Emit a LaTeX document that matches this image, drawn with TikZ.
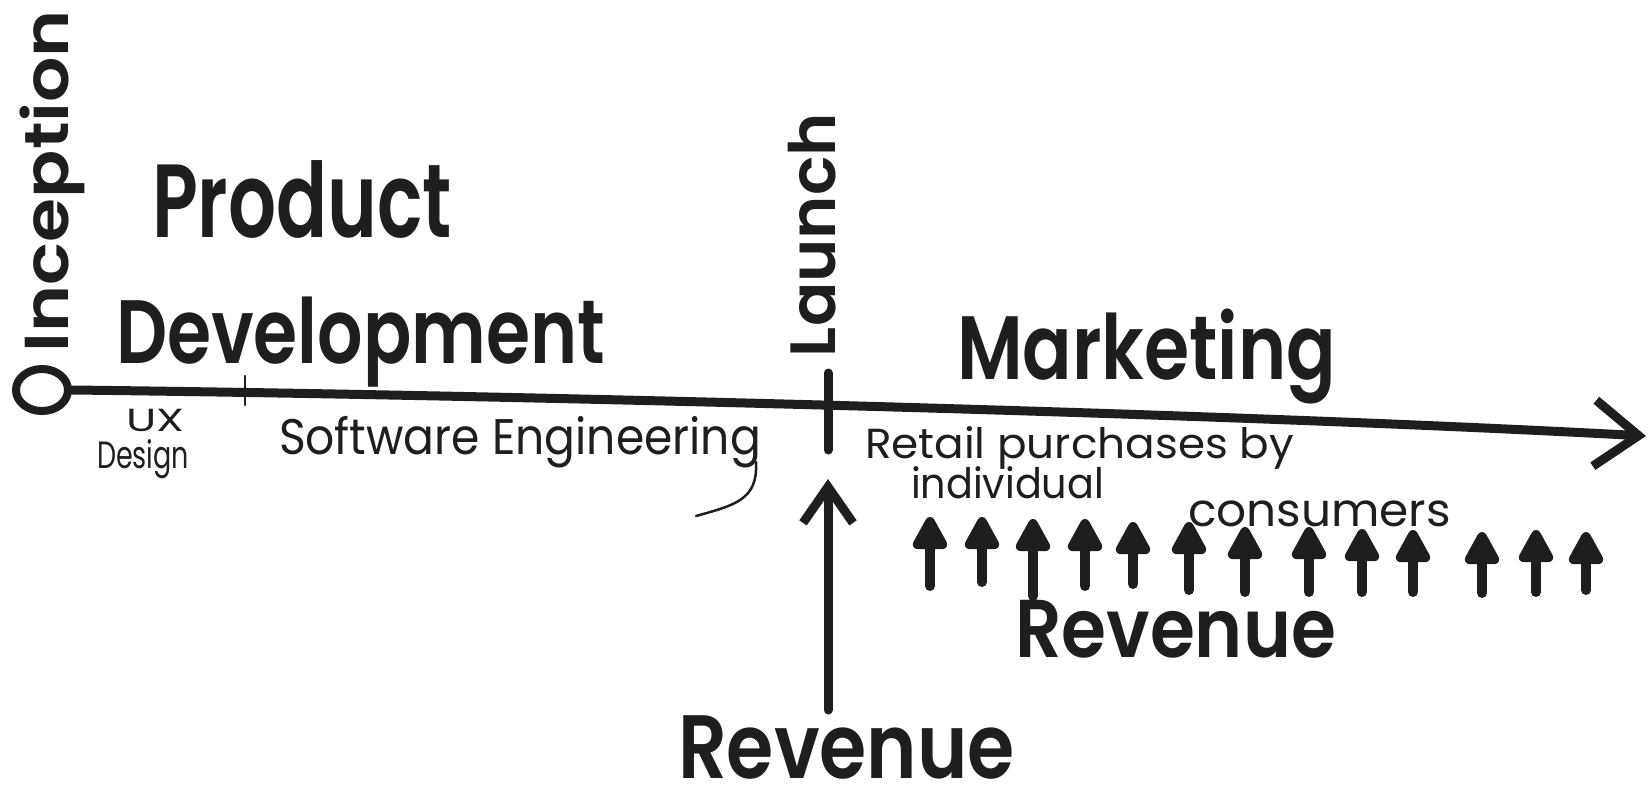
\documentclass[tikz,border=0pt]{standalone}
\usepackage{fontspec}
\usepackage{graphicx}
\usetikzlibrary{arrows.meta,shapes.geometric}
\newfontfamily\marker{Poppins}[UprightFont=* SemiBold]
\newfontfamily\pen{Poppins}
\newcommand\hw[3]{\resizebox{#1pt}{\height}{\fontsize{#2}{#2}\selectfont #3}}
\definecolor{ink}{HTML}{1E1E1E}
\begin{document}
\begin{tikzpicture}[x=1pt,y=-1pt,
  mk/.style={inner sep=0pt, outer sep=0pt, anchor=base west, text=ink, font=\marker},
  pn/.style={inner sep=0pt, outer sep=0pt, anchor=base west, text=ink, font=\pen},
  tl/.style={draw=ink, line width=9pt, line cap=round, line join=round,
     -{Straight Barb[length=44pt,width=66pt]}},
  thick marker/.style={draw=ink, line width=9pt, line cap=round, line join=round},
  thin pen/.style={draw=ink, line width=2.5pt, line cap=round},
  sarr/.style={draw=ink, line width=10pt, line cap=round, -{Triangle[length=38pt,width=38pt,round]}},
  barr/.style={draw=ink, line width=9pt, line cap=round, line join=round, -{Straight Barb[length=36pt,width=50pt]}}]
\fill[white] (0,0) rectangle (1649,804);
\useasboundingbox (0,0) rectangle (1649,804);

% start circle and timeline
\node[ellipse, draw=ink, line width=8pt, minimum width=52pt, minimum height=42pt, inner sep=0pt] (start) at (42,390) {};
\coordinate (tip) at (1646,436);
\draw[tl] (start.east) .. controls (500,395) and (1200,412) .. (tip);

% marker labels
\node[mk, rotate=90] (inception) at (68,352) {\hw{342}{62}{Inception}};
\node[mk] (product) at (152,237) {\hw{300}{104}{Product}};
\node[mk] (development) at (116,363) {\hw{489}{90}{Development}};
\node[mk, rotate=90] (launch) at (835,357) {\hw{244}{64}{Launch}};
\node[mk] (marketing) at (957,379) {\hw{379}{90}{Marketing}};
\node[mk] (revright) at (1015,657) {\hw{321}{82}{Revenue}};
\node[mk] (revbottom) at (678,778) {\hw{337}{90}{Revenue}};

% pen labels
\node[pn] (ux) at (126,431) {\hw{58}{32}{UX}};
\node[pn] (design) at (97,468) {\hw{92}{38}{Design}};
\node[pn] (swe) at (279,454) {\hw{482}{50}{Software Engineering}};
\node[pn] (retail) at (865,458) {\hw{429}{42}{Retail purchases by}};
\node[pn] (individual) at (911,498) {\hw{193}{42}{individual}};
\node[pn] (consumers) at (1188,526) {\hw{263}{46}{consumers}};

% ticks
\coordinate (uxt1) at (245,376);
\coordinate (uxt2) at (245,405);
\draw[thin pen] (uxt1) -- (uxt2);
\coordinate (lt1) at (828,373);
\coordinate (lt2) at (828,450);
\draw[thick marker] (lt1) -- (lt2);

% bracket tail under Engineering
\coordinate (br1) at (756,462);
\coordinate (br2) at (696,516);
\draw[thin pen] (br1) .. controls (758,500) and (735,505) .. (br2);

% big revenue arrow
\coordinate (bigtail) at (828,710);
\coordinate (bigtip) at (828,479);
\draw[barr] (bigtail) -- (bigtip);

% small revenue arrows
\foreach \x/\t/\b [count=\i] in {930/517/586, 982/517/582, 1033/519/596, 1085/519/586,
   1133/522/584, 1189/522/590, 1245/527/592, 1309/527/592, 1362/529/592,
   1413/530/592, 1482/532/593, 1536/530/592, 1586/532/590}{
  \coordinate (sa\i) at (\x,\b);
  \coordinate (sb\i) at (\x,\t);
  \draw[sarr] (sa\i) -- (sb\i);
}
\end{tikzpicture}
\end{document}
